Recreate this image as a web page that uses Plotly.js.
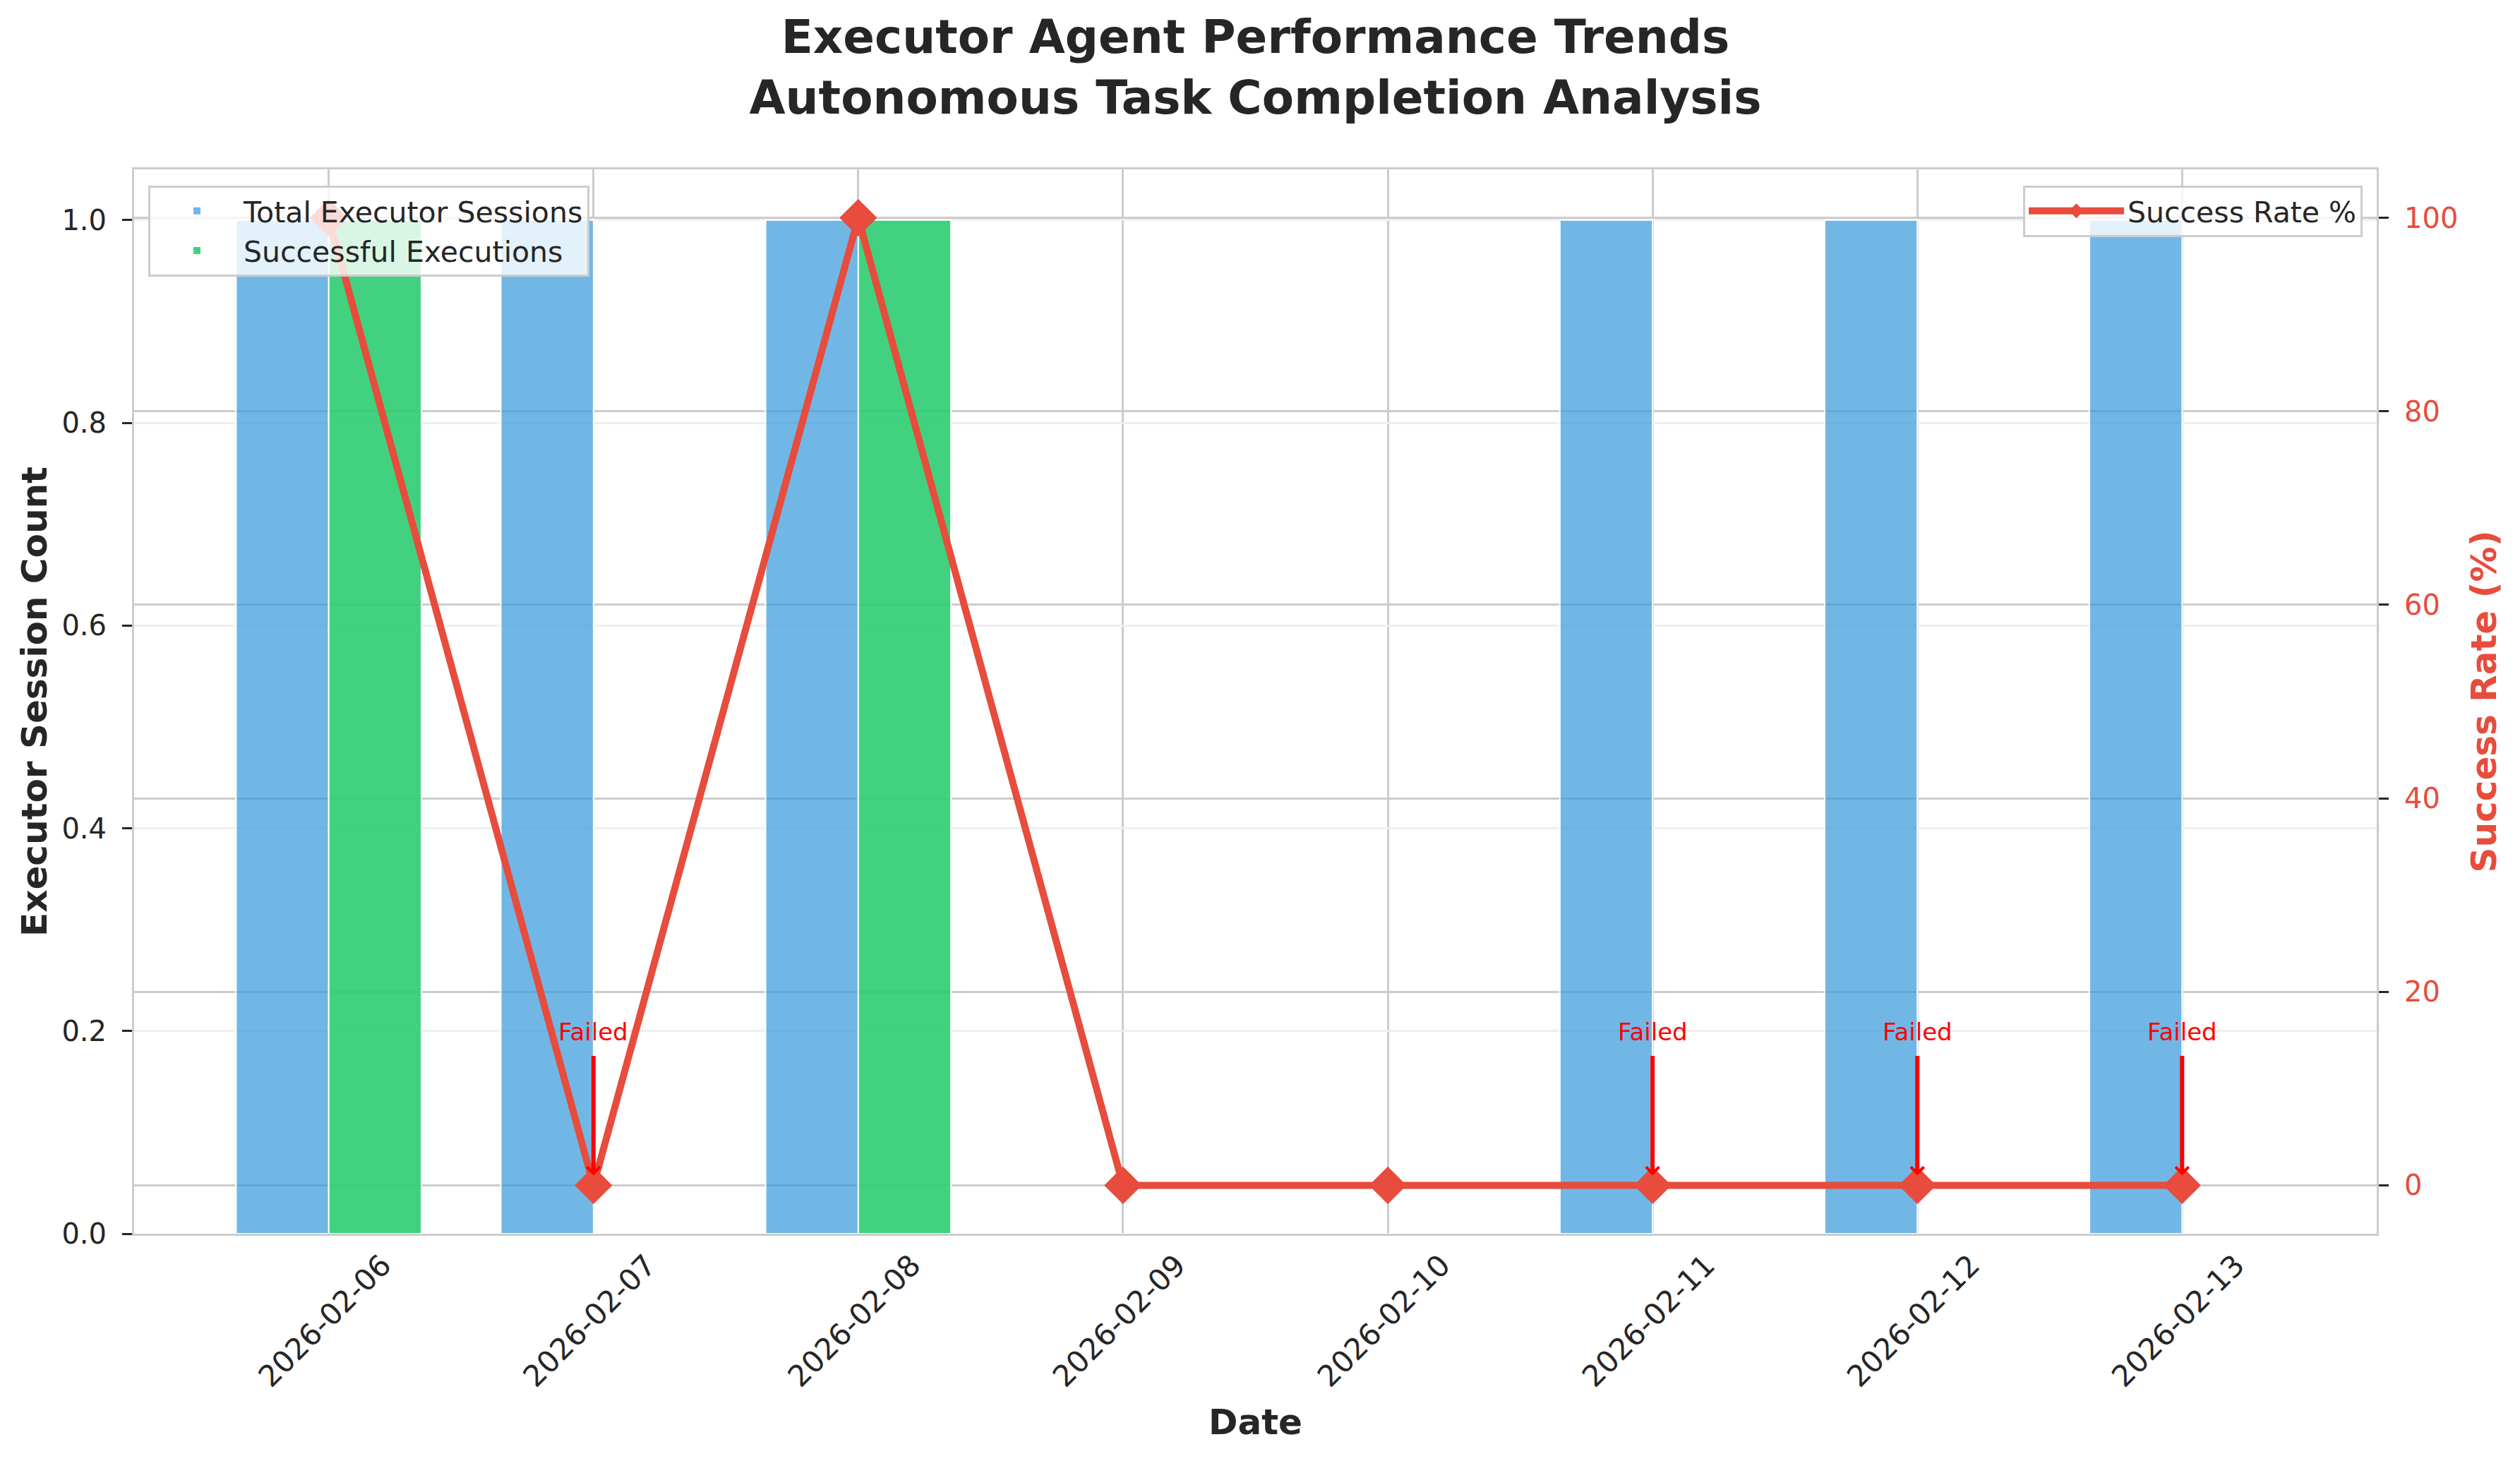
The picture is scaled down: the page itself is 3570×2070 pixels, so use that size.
<!DOCTYPE html>
<html>
<head>
<meta charset="utf-8">
<script src="https://cdn.plot.ly/plotly-3.0.1.min.js"></script>
<style>html,body{margin:0;padding:0;background:#fff;}#chart{width:3570px;height:2070px;}</style>
</head>
<body>
<div id="chart"></div>
<script>
// ---- data ----
const dates = ['2026-02-06','2026-02-07','2026-02-08','2026-02-09','2026-02-10','2026-02-11','2026-02-12','2026-02-13'];
const totalSessions = [1, 1, 1, 0, 0, 1, 1, 1];
const successfulExecutions = [1, 0, 1, 0, 0, 0, 0, 0];
const successRate = [100, 0, 100, 0, 0, 0, 0, 0];
const failedLabel = 'Failed';

// ---- style ----
const FONT = 'DejaVu Sans';
const TXT = '#262626';
const RED = '#e74c3c';

const traces = [
  {
    type: 'bar', name: 'Total Executor Sessions', x: dates, y: totalSessions,
    marker: {color: 'rgba(52,152,219,0.7)', line: {color: '#ffffff', width: 2}},
    legend: 'legend', yaxis: 'y', hoverinfo: 'skip'
  },
  {
    type: 'bar', name: 'Successful Executions', x: dates, y: successfulExecutions,
    marker: {color: 'rgba(46,204,113,0.9)', line: {color: '#ffffff', width: 2}},
    legend: 'legend', yaxis: 'y', hoverinfo: 'skip'
  },
  {
    type: 'scatter', mode: 'lines+markers', name: 'Success Rate %', x: dates, y: successRate,
    line: {color: RED, width: 10},
    marker: {symbol: 'diamond', size: 41, color: RED},
    legend: 'legend2', yaxis: 'y2', hoverinfo: 'skip'
  }
];

const annotations = [];
dates.forEach((d, i) => {
  if (totalSessions[i] > 0 && successRate[i] === 0) {
    annotations.push({
      x: d, y: successRate[i], xref: 'x', yref: 'y2',
      text: failedLabel, showarrow: true, ax: 0, ay: -217,
      arrowhead: 4, arrowsize: 0.6, arrowwidth: 6, arrowcolor: '#ff0000',
      standoff: 14, startstandoff: 12,
      font: {family: FONT, size: 34, color: '#ff0000'}
    });
  }
});

const layout = {
  width: 3570, height: 2070,
  margin: {l: 190, r: 203, t: 240, b: 322, pad: 0},
  paper_bgcolor: '#ffffff', plot_bgcolor: '#ffffff',
  font: {family: FONT, color: TXT, size: 42},
  title: {
    text: 'Executor Agent Performance Trends<br>Autonomous Task Completion Analysis',
    font: {family: FONT, size: 66, color: TXT, weight: 'bold'},
    x: 0.5, xref: 'paper', xanchor: 'center',
    y: 1 - 75 / 2070, yref: 'container', yanchor: 'middle'
  },
  barmode: 'group', bargap: 0.3, bargroupgap: 0,
  xaxis: {
    type: 'category', range: [-0.735, 7.735],
    showgrid: true, gridcolor: '#cccccc', gridwidth: 3,
    showline: true, linecolor: '#cccccc', linewidth: 3, mirror: true,
    ticks: '', tickangle: -45, ticklabelshift: 76, ticklabelstandoff: 0,
    tickfont: {family: FONT, size: 42, color: TXT},
    zeroline: false,
    title: {text: 'Date', font: {family: FONT, size: 50, color: TXT, weight: 'bold'}, standoff: 24}
  },
  yaxis: {
    range: [0, 1.05], dtick: 0.2, tick0: 0, tickformat: '.1f',
    showgrid: true, gridcolor: '#efefef', gridwidth: 3,
    showline: true, linecolor: '#cccccc', linewidth: 3,
    ticks: 'outside', ticklen: 14, tickwidth: 3, tickcolor: TXT, ticklabelstandoff: 14,
    tickfont: {family: FONT, size: 40, color: TXT},
    zeroline: false,
    title: {text: 'Executor Session Count', font: {family: FONT, size: 50, color: TXT, weight: 'bold'}, standoff: 5}
  },
  yaxis2: {
    overlaying: 'y', side: 'right', anchor: 'x',
    range: [-5, 105], dtick: 20, tick0: 0,
    showgrid: true, gridcolor: '#cccccc', gridwidth: 3,
    showline: true, linecolor: '#cccccc', linewidth: 3,
    ticks: 'outside', ticklen: 14, tickwidth: 3, tickcolor: TXT, ticklabelstandoff: 14,
    tickfont: {family: FONT, size: 40, color: RED},
    zeroline: false,
    title: {text: 'Success Rate (%)', font: {family: FONT, size: 50, color: RED, weight: 'bold'}, standoff: 20}
  },
  legend: {
    x: 0.0063, y: 0.985, xanchor: 'left', yanchor: 'top',
    bgcolor: 'rgba(255,255,255,0.8)', bordercolor: '#cccccc', borderwidth: 3,
    font: {family: FONT, size: 41, color: TXT}, itemwidth: 122
  },
  legend2: {
    x: 0.9937, y: 0.985, xanchor: 'right', yanchor: 'top',
    bgcolor: 'rgba(255,255,255,0.8)', bordercolor: '#cccccc', borderwidth: 3,
    font: {family: FONT, size: 41, color: TXT}, itemwidth: 135
  },
  showlegend: true,
  annotations: annotations
};

Plotly.newPlot('chart', traces, layout, {staticPlot: true, displayModeBar: false});
</script>
</body>
</html>
